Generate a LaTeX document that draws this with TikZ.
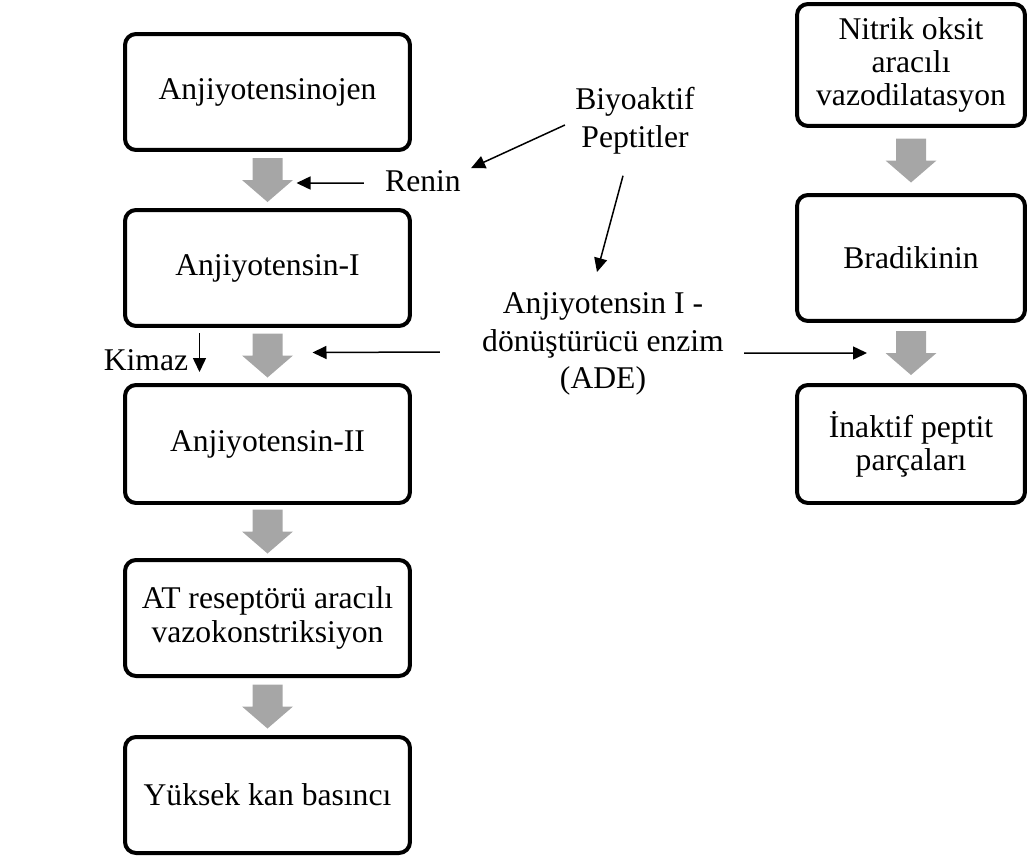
\documentclass[tikz,border=0pt]{standalone}
\usepackage{fontspec}
\setmainfont{Liberation Serif}
\usetikzlibrary{calc}
\usetikzlibrary{arrows.meta}
\definecolor{arrowgray}{RGB}{166,166,166}

\begin{document}
\begin{tikzpicture}[x=0.02cm, y=-0.02cm,
  box/.style={draw, line width=0.08cm, rounded corners=0.22cm, align=center, inner sep=0, font=\fontsize{18}{19}\selectfont},
  lbl/.style={align=center, inner sep=0, font=\fontsize{18}{21.5}\selectfont},
  conn/.style={line width=0.03cm, -{Triangle[length=0.28cm, width=0.26cm]}}]
\useasboundingbox (0,0) rectangle (1027,856);
\node[box, minimum width=5.7cm, minimum height=2.32cm] (agt) at (267.5,92) {Anjiyotensinojen};
\node[box, minimum width=5.7cm, minimum height=2.32cm] (ang1) at (267.5,268) {Anjiyotensin-I};
\node[box, minimum width=5.7cm, minimum height=2.36cm] (ang2) at (267.5,444) {Anjiyotensin-II};
\node[box, minimum width=5.7cm, minimum height=2.32cm] (atr) at (267.5,618) {AT reseptörü aracılı\\vazokonstriksiyon};
\node[box, minimum width=5.7cm, minimum height=2.32cm] (kan) at (267.5,795) {Yüksek kan basıncı};
\node[box, minimum width=4.56cm, minimum height=2.44cm] (no) at (911,65) {Nitrik oksit\\aracılı\\vazodilatasyon};
\node[box, minimum width=4.56cm, minimum height=2.52cm] (bk) at (911,258) {Bradikinin};
\node[box, minimum width=4.56cm, minimum height=2.36cm] (inp) at (911,444) {İnaktif peptit\\parçaları};
\foreach \a/\b/\n in {agt/ang1/g1, ang1/ang2/g2, ang2/atr/g3, atr/kan/g4, no/bk/g5, bk/inp/g6} {
 \coordinate (\n) at ($(\a.south)!.5!(\b.north)$);
 \fill[arrowgray] (\n) ++(-15,-22) -- ++(30,0) -- ++(0,22) -- ++(10.5,0) -- ++(-25.5,22) -- ++(-25.5,-22) -- ++(10.5,0) -- cycle;
}
\node[lbl] (bio) at (635,121) {Biyoaktif\\Peptitler};
\node[lbl] (renin) at (423,181) {Renin};
\node[lbl] (ade) at (603,344) {Anjiyotensin I -\\dönüştürücü enzim\\(ADE)};
\node[lbl] (kimaz) at (146,360) {Kimaz};
\draw[conn] ($(renin.west)+(-21,2)$) -- ($(g1)+(29,3)$);
\draw[conn] ($(bio.west)+(-10,4)$) -- ($(renin.north east)+(10,-2)$);
\draw[conn] ($(bio.south)+(-12,21)$) -- ($(ade.north)+(-6,-20)$);
\draw[conn] ($(ade.west)+(-42,8)$) -- ($(g2)+(45,-3)$);
\draw[conn] ($(ade.east)+(20,9)$) -- ($(g6)+(-44,0)$);
\draw[conn] ($(kimaz.east)+(11,-27)$) -- ($(kimaz.east)+(11,12)$);
\end{tikzpicture}
\end{document}
